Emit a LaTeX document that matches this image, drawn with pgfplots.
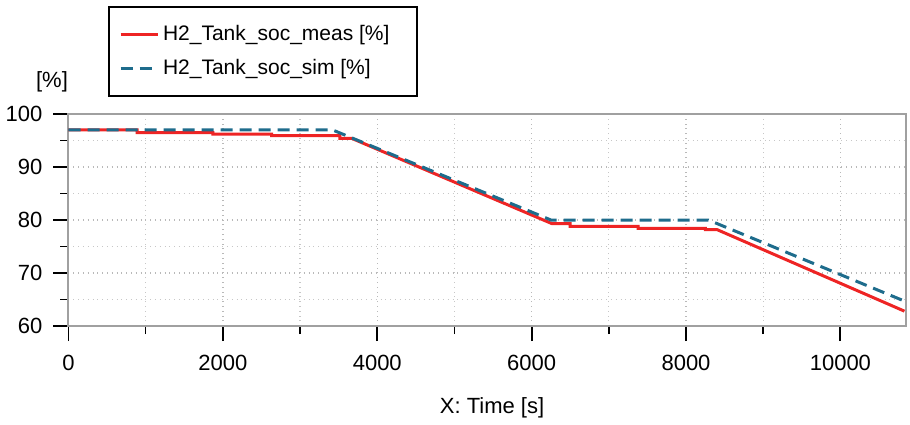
\documentclass[border=0pt]{standalone}
\usepackage{fontspec}
\setmainfont{Liberation Sans}
\usepackage{pgfplots}
\pgfplotsset{compat=1.18}
\definecolor{measred}{RGB}{238,36,36}
\definecolor{simblue}{RGB}{30,108,140}
\definecolor{axisgray}{RGB}{160,160,160}
\definecolor{gridgray}{RGB}{185,185,185}

\begin{document}
\begin{tikzpicture}
\useasboundingbox (-34.25pt,-49pt) rectangle (420.75pt,163pt);
\begin{axis}[
  at={(0,0)}, anchor=south west,
  scale only axis, width=418.75pt, height=106pt,
  xmin=0, xmax=10850, ymin=60, ymax=100,
  xtick={0,2000,...,10000}, minor xtick={1000,3000,...,9000},
  ytick={60,70,...,100}, minor ytick={65,75,85,95},
  grid=both,
  major grid style={gridgray, dotted, line width=0.7pt},
  minor grid style={gridgray!80, dotted, line width=0.6pt},
  axis line style={axisgray, line width=1pt},
  tick align=outside, tick pos=left,
  major tick length=7.5pt, minor tick length=4pt,
  major tick style={black, line width=0.9pt},
  minor tick style={black, line width=0.8pt},
  scaled x ticks=false,
  /pgf/number format/1000 sep={},
  /pgf/number format/assume math mode=true,
  tick label style={font=\fontsize{11}{13}\selectfont},
  yticklabel style={xshift=-2pt},
  xticklabel style={yshift=-3.5pt},
  label style={font=\fontsize{11}{13}\selectfont},
  xlabel={X: Time [s]},
  xlabel style={at={(axis description cs:0.5057,-0.387)}, anchor=center},
  ylabel={[\%]},
  ylabel style={rotate=-90, at={(axis description cs:-0.0197,1.151)}, anchor=center},
  legend style={at={(axis description cs:0.0472,1.509)}, anchor=north west,
    draw=black, line width=1pt, font=\fontsize{10.5}{12.6}\selectfont,
    inner xsep=5pt, inner ysep=7pt, row sep=4pt, cells={anchor=west}},
  legend cell align=left,
  legend image code/.code={\draw[#1] (0pt,0pt) -- (18.5pt,0pt);},
]
% measured tank state of charge
\addplot[measred, line width=1.5pt] coordinates {
  (0,97) (890,97) (890,96.5) (1872,96.5) (1872,96.2) (2632,96.2)
  (2632,95.9) (3517,95.9) (3517,95.4) (3670,95.4)
  (6265,79.3) (6500,79.3) (6500,78.8) (7380,78.8) (7380,78.4)
  (8250,78.4) (8250,78.2) (8400,78.2) (10830,62.8)
};
\addlegendentry{H2\_Tank\_soc\_meas [\%]\kern7pt}
% simulated tank state of charge
\addplot[simblue, line width=1.5pt, dash pattern=on 6pt off 3.5pt] coordinates {
  (0,97) (3420,97) (6250,80) (8290,80) (10830,64.7)
};
\addlegendentry{H2\_Tank\_soc\_sim [\%]}
\end{axis}
\end{tikzpicture}
\end{document}
